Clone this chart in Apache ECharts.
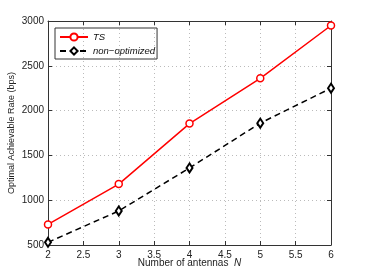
<!DOCTYPE html>
<html><head><meta charset="utf-8">
<script src="https://cdn.jsdelivr.net/npm/echarts@6/dist/echarts.min.js"></script>
<style>html,body{margin:0;padding:0;background:#fff}#c{width:366px;height:276px}</style>
</head><body><div id="c"></div>
<script>
const antennas = [2, 3, 4, 5, 6];
const tsRate = [730, 1180, 1855, 2360, 2950];
const nonOptRate = [530, 880, 1360, 1860, 2250];
const seriesNames = ['TS', 'non\u2212optimized'];
const xTitle = 'Number of antennas  ';
const yTitle = 'Optimal Achievable Rate (bps)';

const chart = echarts.init(document.getElementById('c'), null, {renderer: 'canvas'});
const font = 'Liberation Sans, Arial, sans-serif';
const axisCommon = {
  axisLine: {show: true, lineStyle: {color: '#333', width: 1}},
  axisTick: {show: true, inside: true, length: 4, lineStyle: {color: '#333'}},
  axisLabel: {color: '#222', fontSize: 10, fontFamily: font},
};
chart.setOption({
  animation: false,
  grid: {left: 48, right: 35, top: 21, bottom: 31, containLabel: false, outerBoundsMode: 'none'},
  legend: {
    left: 55, top: 28, orient: 'vertical',
    borderColor: '#333', borderWidth: 1, padding: [4, 2, 3, 4], itemGap: 4,
    itemWidth: 28, itemHeight: 9,
    textStyle: {fontSize: 9.5, fontStyle: 'italic', fontFamily: font, color: '#111'},
    data: seriesNames
  },
  xAxis: [
    Object.assign({}, axisCommon, {
      type: 'value', min: 2, max: 6, interval: 0.5,
      name: xTitle + '{n|N}', nameLocation: 'middle', nameGap: 13, nameMoveOverlap: false,
      nameTextStyle: {fontSize: 10, fontFamily: font, color: '#222', verticalAlign: 'top',
        rich: {n: {fontStyle: 'italic', fontSize: 10, fontFamily: font}}},
      axisLabel: Object.assign({}, axisCommon.axisLabel, {margin: 5}),
      splitLine: {show: true, lineStyle: {color: '#bbb', type: [1, 3]}}
    }),
    Object.assign({}, axisCommon, {
      type: 'value', min: 2, max: 6, interval: 0.5, position: 'top',
      axisLabel: {show: false}, splitLine: {show: false}
    })
  ],
  yAxis: [
    Object.assign({}, axisCommon, {
      type: 'value', min: 500, max: 3000, interval: 500,
      name: yTitle, nameLocation: 'middle', nameGap: 32, nameMoveOverlap: false,
      nameTextStyle: {fontSize: 9, fontFamily: font, color: '#222'},
      axisLabel: Object.assign({}, axisCommon.axisLabel, {margin: 4, formatter: v => String(v)}),
      splitLine: {show: true, lineStyle: {color: '#bbb', type: [1, 3]}}
    }),
    Object.assign({}, axisCommon, {
      type: 'value', min: 500, max: 3000, interval: 500, position: 'right',
      axisLabel: {show: false}, splitLine: {show: false}
    })
  ],
  series: [
    {
      name: seriesNames[0], type: 'line',
      data: antennas.map((x, i) => [x, tsRate[i]]),
      symbol: 'circle', symbolSize: 7, showAllSymbol: true,
      lineStyle: {color: '#ff0000', width: 1.5},
      itemStyle: {color: '#fff', borderColor: '#ff0000', borderWidth: 1.5}
    },
    {
      name: seriesNames[1], type: 'line',
      data: antennas.map((x, i) => [x, nonOptRate[i]]),
      symbol: 'diamond', symbolSize: [6, 9], showAllSymbol: true,
      lineStyle: {color: '#000', width: 1.5, type: [6, 4]},
      itemStyle: {color: '#fff', borderColor: '#000', borderWidth: 2}
    }
  ]
});
</script></body></html>
